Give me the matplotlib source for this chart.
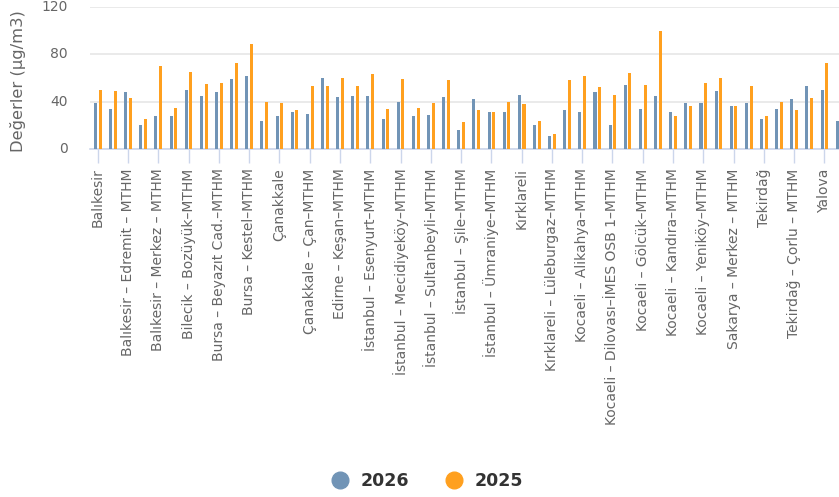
import numpy as np
import matplotlib
matplotlib.use("Agg")
import matplotlib.pyplot as plt
from matplotlib.lines import Line2D

# station names (only every second one is labelled on the axis)
stations = [
    "Balıkesir", "Balıkesir – Bandırma – MTHM",
    "Balıkesir – Edremit – MTHM", "Balıkesir – Gönen – MTHM",
    "Balıkesir – Merkez – MTHM", "Bilecik",
    "Bilecik – Bozüyük–MTHM", "Bursa",
    "Bursa – Beyazıt Cad.–MTHM", "Bursa – İnegöl–MTHM",
    "Bursa – Kestel–MTHM", "Bursa – Uludağ Üni.–MTHM",
    "Çanakkale", "Çanakkale – Biga–MTHM",
    "Çanakkale – Çan–MTHM", "Edirne",
    "Edirne – Keşan–MTHM", "İstanbul – Esenler–MTHM",
    "İstanbul – Esenyurt–MTHM", "İstanbul – Kağıthane–MTHM",
    "İstanbul – Mecidiyeköy–MTHM", "İstanbul – Silivri–MTHM",
    "İstanbul – Sultanbeyli–MTHM", "İstanbul – Sultangazi–MTHM",
    "İstanbul – Şile–MTHM", "İstanbul – Tuzla–MTHM",
    "İstanbul – Ümraniye–MTHM", "İstanbul – Yenibosna–MTHM",
    "Kırklareli", "Kırklareli – Babaeski–MTHM",
    "Kırklareli – Lüleburgaz–MTHM", "Kocaeli",
    "Kocaeli – Alikahya–MTHM", "Kocaeli – Dilovası–MTHM",
    "Kocaeli – Dilovası–İMES OSB 1–MTHM", "Kocaeli – Gebze–MTHM",
    "Kocaeli – Gölcük–MTHM", "Kocaeli – İzmit–MTHM",
    "Kocaeli – Kandıra–MTHM", "Kocaeli – Körfez–MTHM",
    "Kocaeli – Yeniköy–MTHM", "Sakarya",
    "Sakarya – Merkez – MTHM", "Sakarya – Sapanca – MTHM",
    "Tekirdağ", "Tekirdağ – Çerkezköy – MTHM",
    "Tekirdağ – Çorlu – MTHM", "Tekirdağ – Ergene – MTHM",
    "Yalova", "Yalova – Armutlu – MTHM",
]

vals_2026 = [39, 34, 48, 20, 28, 28, 50, 45, 48, 59,
             62, 24, 28, 31, 30, 60, 44, 45, 45, 25,
             40, 28, 29, 44, 16, 42, 31, 31, 46, 20,
             11, 33, 31, 48, 20, 54, 34, 45, 31, 39,
             39, 49, 36, 39, 25, 34, 42, 53, 50, 24]
vals_2025 = [50, 49, 43, 25, 70, 35, 65, 55, 56, 73,
             89, 40, 39, 33, 53, 53, 60, 53, 63, 34,
             59, 35, 39, 58, 23, 33, 31, 40, 38, 24,
             13, 58, 62, 52, 46, 64, 54, 100, 28, 36,
             56, 60, 36, 53, 28, 40, 33, 43, 73, np.nan]

y_ticks = [0, 40, 80, 120]

blue = "#7194b6"
orange = "#ffa01f"

fig = plt.figure(figsize=(8.39, 4.97), dpi=100)
ax = fig.add_axes([90 / 839, 1 - 149 / 497, 749 / 839, 142 / 497])

x = np.arange(len(stations))
ax.bar(x - 0.155, vals_2026, width=0.2, color=blue, zorder=3)
ax.bar(x + 0.155, vals_2025, width=0.2, color=orange, zorder=3)

ax.set_xlim(-0.51, 48.96)
ax.set_ylim(0, 120)
ax.set_yticks(y_ticks)
ax.set_yticklabels([])
ax.yaxis.grid(True, color="#e6e6e6", linewidth=1.2, zorder=0)
ax.set_axisbelow(True)
ax.tick_params(axis="y", length=0)

# y tick labels placed a fixed distance left of the plot
ytrans = ax.get_yaxis_transform()
for v in y_ticks:
    ax.text(-22 / 749, v, str(v), transform=ytrans, ha="right", va="center",
            fontsize=10, color="#666666", clip_on=False)

ax.set_xticks(x[::2])
ax.set_xticklabels(stations[::2], rotation=90, fontsize=10, color="#666666")
ax.tick_params(axis="x", length=10, color="#ccd6eb", width=1, pad=4)

for s in ["top", "right", "left"]:
    ax.spines[s].set_visible(False)
ax.spines["bottom"].set_color("#ccd6eb")
ax.spines["bottom"].set_linewidth(1.2)

# y axis title
fig.text(18 / 839, 1 - 81 / 497, "Değerler (µg/m3)", rotation=90,
         ha="center", va="center", fontsize=11.8, color="#666666")

handles = [Line2D([], [], marker="o", linestyle="", markersize=12, color=blue),
           Line2D([], [], marker="o", linestyle="", markersize=12, color=orange)]
fig.legend(handles, ["2026", "2025"], loc="center", bbox_to_anchor=(0.504, 0.033),
           ncol=2, frameon=False, handletextpad=0.2, columnspacing=1.6,
           prop={"size": 12.5, "weight": "bold"}, labelcolor="#333333")

plt.savefig("out.png", dpi=100)
